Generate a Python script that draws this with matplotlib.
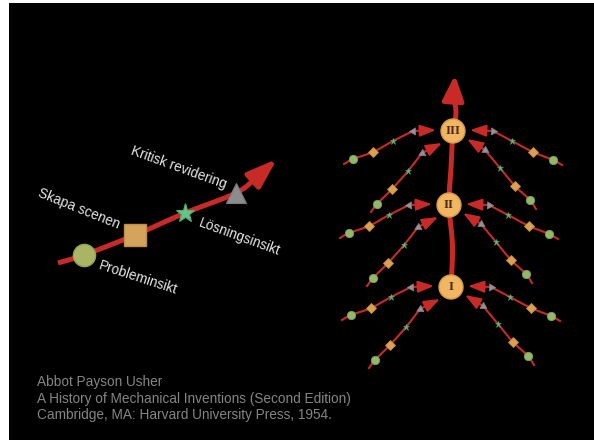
import numpy as np
import matplotlib
matplotlib.use("Agg")
import matplotlib.pyplot as plt
from matplotlib.patches import Rectangle, Circle

# ---------------- data ----------------
# left diagram: path points (start, circle, square, star, triangle, arrow base) and arrow tip
LEFT_X = [58, 84, 135, 185, 236, 257]
LEFT_Y = [263, 255, 235, 213, 193, 177]
LEFT_TIP = (277, 159)
LEFT_LABELS = ["Probleminsikt", "Skapa scenen", "Lösningsinsikt", "Kritisk revidering"]
LEFT_LABEL_X = [138, 79, 239, 179]
LEFT_LABEL_Y = [278, 209, 237, 168]
LEFT_LABEL_ROT = [-18, -22, -20, -20]

# right tree: nodes
NODE_LABELS = ["I", "II", "III"]
NODE_X = [451, 449, 453]
NODE_Y = [287, 205, 131]
# main stem
STEM_X = [451, 452.5, 449, 451, 453, 456, 453.5]
STEM_Y = [287, 246, 205, 168, 131, 113, 96]
STEM_TIP = (455, 75)

# branch templates relative to node: start, circle, diamond, star, triangle, tip
BR_UPPER_L = [(-109, 33), (-100, 28), (-80, 21), (-60, 10), (-40, 0), (-17, -1)]
BR_LOWER_L = [(-82, 81), (-76, 73), (-61, 58), (-45, 40), (-31, 22), (-11, 12)]
BR_UPPER_R = [(109, 34), (100, 29), (80, 21), (59, 10), (40, 0), (17, -1)]
BR_LOWER_R = [(83, 78), (77, 69), (62, 55), (47, 37), (32, 19), (14, 8)]

CREDITS = ["Abbot Payson Usher",
           "A History of Mechanical Inventions (Second Edition)",
           "Cambridge, MA: Harvard University Press, 1954."]

# ---------------- style ----------------
RED = "#c82a28"
TXT = "#e6e6e6"
GREY_TXT = "#858585"


def catmull(points, n=16):
    p = np.asarray(points, float)
    p = np.vstack([2 * p[0] - p[1], p, 2 * p[-1] - p[-2]])
    out = []
    for i in range(1, len(p) - 2):
        p0, p1, p2, p3 = p[i - 1], p[i], p[i + 1], p[i + 2]
        t = np.linspace(0, 1, n, endpoint=False)[:, None]
        seg = 0.5 * ((2 * p1) + (-p0 + p2) * t
                     + (2 * p0 - 5 * p1 + 4 * p2 - p3) * t ** 2
                     + (-p0 + 3 * p1 - 3 * p2 + p3) * t ** 3)
        out.append(seg)
    out.append(p[-2][None, :])
    return np.vstack(out)


fig = plt.figure(figsize=(5.94, 4.40), dpi=100, facecolor="white")
ax = fig.add_axes([0, 0, 1, 1])
ax.set_xlim(0, 594)
ax.set_ylim(440, 0)
ax.axis("off")
ax.add_patch(Rectangle((9, 3), 590, 440, facecolor="black", edgecolor="none", zorder=0))

# ---------- left diagram ----------
c = catmull(list(zip(LEFT_X, LEFT_Y)))
ax.plot(c[:, 0], c[:, 1], color=RED, lw=3.6, solid_capstyle="butt", zorder=2)
ax.annotate("", xy=LEFT_TIP, xytext=(LEFT_X[-1], LEFT_Y[-1]),
            arrowprops=dict(arrowstyle="-|>,head_length=0.9,head_width=0.31",
                            color=RED, lw=3.6, mutation_scale=20,
                            shrinkA=0, shrinkB=0), zorder=2)
ax.plot(LEFT_X[1], LEFT_Y[1], "o", ms=16, mfc="#a9b464", mec="#96a054", mew=1, zorder=3)
ax.plot(LEFT_X[2], LEFT_Y[2], "s", ms=15.5, mfc="#d4a35c", mec="#c08e48", mew=1, zorder=3)
ax.plot(LEFT_X[3], LEFT_Y[3], "*", ms=14, mfc="#66c486", mec="#52ad70", mew=0.8, zorder=3)
ax.plot(LEFT_X[4], LEFT_Y[4], "^", ms=14, mfc="#8c8c8c", mec="#7a7a7a", mew=0.8, zorder=3)

for lab, x, y, r in zip(LEFT_LABELS, LEFT_LABEL_X, LEFT_LABEL_Y, LEFT_LABEL_ROT):
    ax.text(x, y, lab, rotation=r, rotation_mode="anchor", ha="center", va="center",
            fontsize=9.8, color=TXT, family="Liberation Sans", zorder=5)

# ---------- right tree ----------
s = catmull(list(zip(STEM_X, STEM_Y)))
ax.plot(s[:, 0], s[:, 1], color=RED, lw=3.6, solid_capstyle="butt", zorder=2)
ax.annotate("", xy=STEM_TIP, xytext=(STEM_X[-1], STEM_Y[-1]),
            arrowprops=dict(arrowstyle="-|>,head_length=0.75,head_width=0.32",
                            color=RED, lw=3.6, mutation_scale=20,
                            shrinkA=0, shrinkB=0), zorder=2)

for nx, ny in zip(NODE_X, NODE_Y):
    for tmpl in (BR_UPPER_L, BR_LOWER_L, BR_UPPER_R, BR_LOWER_R):
        pts = [(nx + dx, ny + dy) for dx, dy in tmpl]
        cc = catmull(pts[:5])
        ax.plot(cc[:, 0], cc[:, 1], color=RED, lw=1.5, zorder=2)
        ax.annotate("", xy=pts[5], xytext=pts[4],
                    arrowprops=dict(arrowstyle="-|>,head_length=0.6,head_width=0.22",
                                    color=RED, lw=1.5, mutation_scale=16,
                                    shrinkA=0, shrinkB=0), zorder=2)
        ax.plot(*pts[1], "o", ms=6, mfc="#93b86c", mec="#7aa055", mew=0.6, zorder=3)
        ax.plot(*pts[2], "D", ms=5.2, mfc="#d9a152", mec="#c48c40", mew=0.6, zorder=3)
        ax.plot(*pts[3], "*", ms=5, mfc="#5fbf80", mec="#4aa86a", mew=0.4, zorder=3)
        dx = pts[4][0] - pts[5][0]
        dy = pts[4][1] - pts[5][1]
        ang = np.degrees(np.arctan2(-dy, dx))
        ax.plot(*pts[4], marker=(3, 0, ang - 90), ms=6, mfc="#979097", mec="#857f85",
                mew=0.5, zorder=3)

for lab, nx, ny in zip(NODE_LABELS, NODE_X, NODE_Y):
    ax.add_patch(Circle((nx, ny), 12, facecolor="#f0b662", edgecolor="#d99a42", lw=1, zorder=4))
    ax.text(nx, ny + 0.5, lab, ha="center", va="center", fontsize=9.5, fontweight="bold",
            family="Liberation Serif", color="#4a2c14", zorder=5)

# ---------- credits ----------
for i, line in enumerate(CREDITS):
    ax.text(37, 386 + i * 16.6, line, ha="left", va="baseline", fontsize=9.8,
            color=GREY_TXT, family="Liberation Sans", zorder=5)

fig.savefig("out.png", dpi=100, facecolor="white")
